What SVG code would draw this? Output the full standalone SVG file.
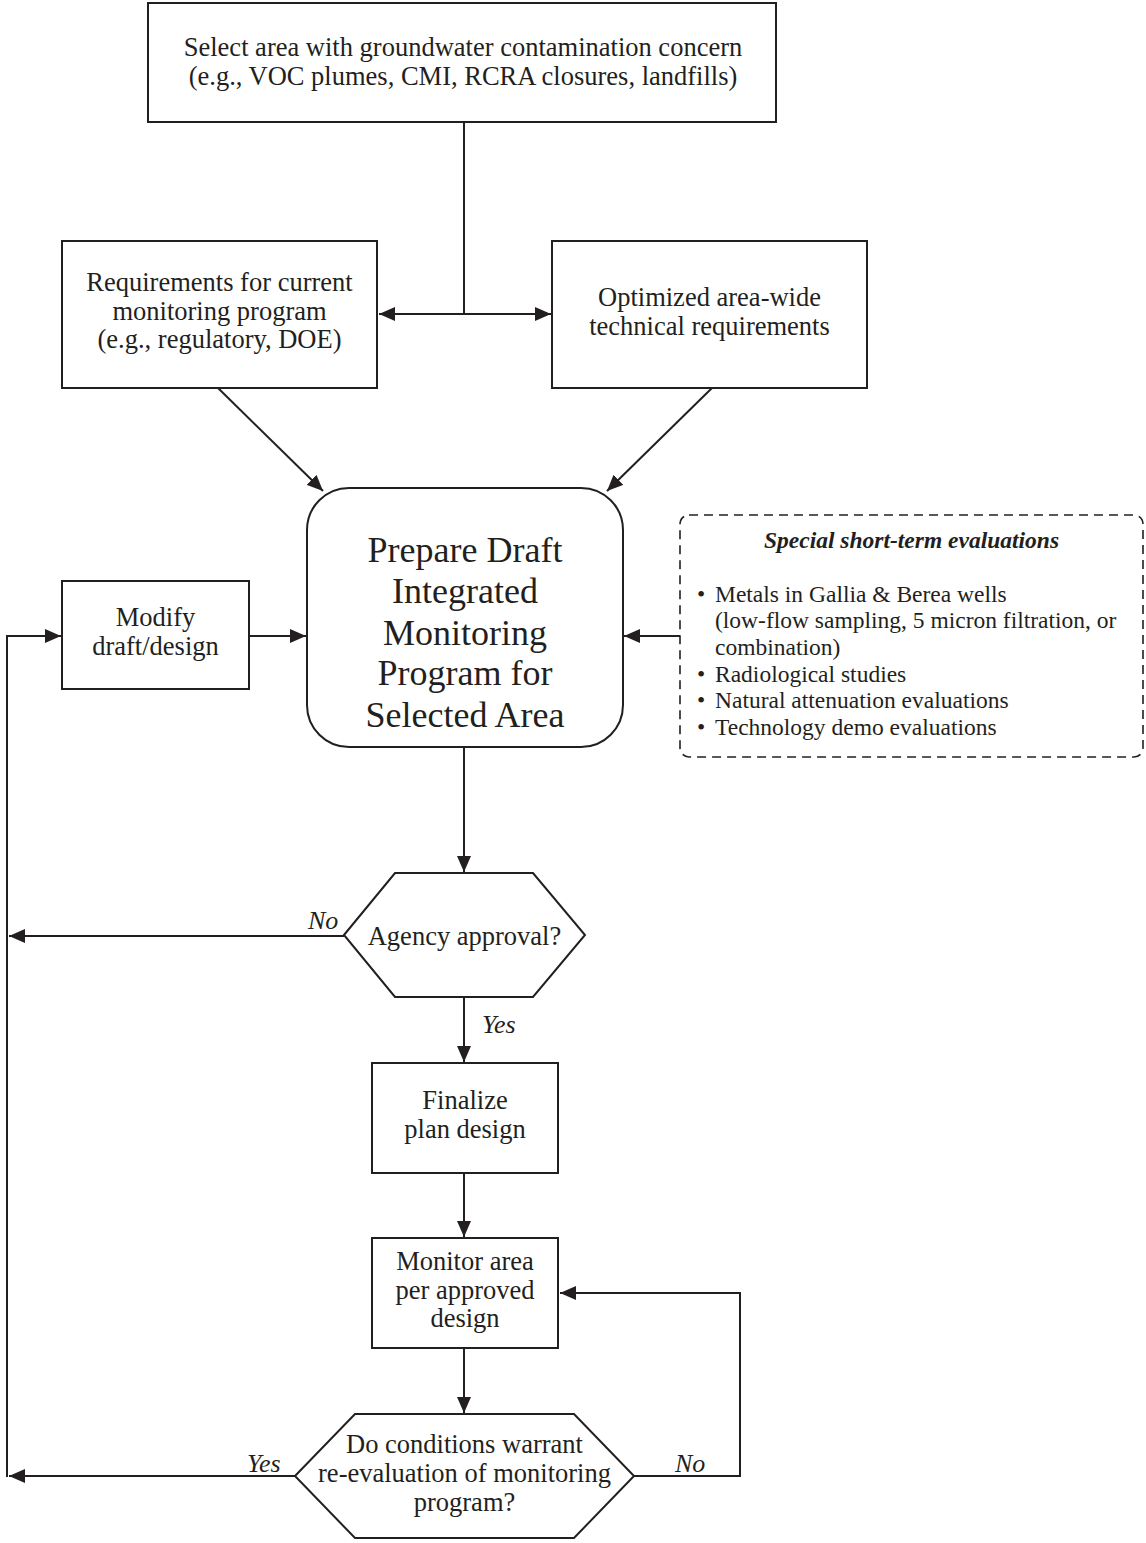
<svg xmlns="http://www.w3.org/2000/svg" width="1146" height="1543" viewBox="0 0 1146 1543">
<style>
  .box { fill: #ffffff; stroke: #231f20; stroke-width: 2; }
  .dash { fill: #ffffff; stroke: #231f20; stroke-width: 1.6; stroke-dasharray: 9 6; }
  .conn { fill: none; stroke: #231f20; stroke-width: 2; }
  .t { font-family: "Liberation Serif", "Times New Roman", serif; font-size: 26.5px; fill: #231f20; text-anchor: middle; }
  .big { font-family: "Liberation Serif", "Times New Roman", serif; font-size: 36px; fill: #231f20; text-anchor: middle; }
  .sp { font-family: "Liberation Serif", "Times New Roman", serif; font-size: 23.5px; fill: #231f20; }
  .spt { font-family: "Liberation Serif", "Times New Roman", serif; font-size: 23.5px; font-weight: bold; font-style: italic; fill: #231f20; text-anchor: middle; }
  .lbl { font-family: "Liberation Serif", "Times New Roman", serif; font-size: 26px; font-style: italic; fill: #231f20; }
</style>
<defs>
  <marker id="ah" markerUnits="userSpaceOnUse" markerWidth="17" markerHeight="14" refX="16" refY="7" orient="auto-start-reverse">
    <path d="M0,0 L16,7 L0,14 z" fill="#231f20"/>
  </marker>
</defs>
<rect width="1146" height="1543" fill="#ffffff"/>

<g id="connectors">
  <line class="conn" x1="464" y1="122" x2="464" y2="314"/>
  <line class="conn" x1="379" y1="314" x2="551" y2="314" marker-start="url(#ah)" marker-end="url(#ah)"/>
  <line class="conn" x1="218" y1="388" x2="323" y2="491" marker-end="url(#ah)"/>
  <line class="conn" x1="712" y1="388" x2="607" y2="491" marker-end="url(#ah)"/>
  <line class="conn" x1="249" y1="636" x2="306" y2="636" marker-end="url(#ah)"/>
  <line class="conn" x1="680" y1="636" x2="624" y2="636" marker-end="url(#ah)"/>
  <line class="conn" x1="464" y1="747" x2="464" y2="872" marker-end="url(#ah)"/>
  <line class="conn" x1="344" y1="936" x2="9" y2="936" marker-end="url(#ah)"/>
  <line class="conn" x1="464" y1="997" x2="464" y2="1062" marker-end="url(#ah)"/>
  <line class="conn" x1="464" y1="1173" x2="464" y2="1237" marker-end="url(#ah)"/>
  <line class="conn" x1="464" y1="1348" x2="464" y2="1413" marker-end="url(#ah)"/>
  <line class="conn" x1="295" y1="1476" x2="9" y2="1476" marker-end="url(#ah)"/>
  <polyline class="conn" points="634,1476 740,1476 740,1293 560,1293" marker-end="url(#ah)"/>
  <polyline class="conn" points="7,1477 7,636 61,636" marker-end="url(#ah)"/>
  <text class="lbl" x="308" y="929">No</text>
  <text class="lbl" x="482" y="1033">Yes</text>
  <text class="lbl" x="247" y="1472">Yes</text>
  <text class="lbl" x="675" y="1472">No</text>
</g>

<g id="node-select">
  <rect class="box" x="148" y="3" width="628" height="119"/>
  <text class="t" x="463" y="56">Select area with groundwater contamination concern</text>
  <text class="t" x="463" y="85">(e.g., VOC plumes, CMI, RCRA closures, landfills)</text>
</g>

<g id="node-requirements">
  <rect class="box" x="62" y="241" width="315" height="147"/>
  <text class="t" x="219.5" y="291">Requirements for current</text>
  <text class="t" x="219.5" y="319.5">monitoring program</text>
  <text class="t" x="219.5" y="348">(e.g., regulatory, DOE)</text>
</g>

<g id="node-optimized">
  <rect class="box" x="552" y="241" width="315" height="147"/>
  <text class="t" x="709.5" y="306">Optimized area-wide</text>
  <text class="t" x="709.5" y="335">technical requirements</text>
</g>

<g id="node-prepare">
  <rect class="box" x="307" y="488" width="316" height="259" rx="42" ry="42"/>
  <text class="big" x="465" y="562">Prepare Draft</text>
  <text class="big" x="465" y="603">Integrated</text>
  <text class="big" x="465" y="645">Monitoring</text>
  <text class="big" x="465" y="685">Program for</text>
  <text class="big" x="465" y="727">Selected Area</text>
</g>

<g id="node-modify">
  <rect class="box" x="62" y="581" width="187" height="108"/>
  <text class="t" x="155.5" y="626">Modify</text>
  <text class="t" x="155.5" y="655">draft/design</text>
</g>

<g id="node-special">
  <rect class="dash" x="680" y="515" width="463" height="242" rx="9" ry="9"/>
  <text class="spt" x="911.5" y="548">Special short-term evaluations</text>
  <text class="sp" x="697" y="602">•</text>
  <text class="sp" x="715" y="602">Metals in Gallia &amp; Berea wells</text>
  <text class="sp" x="715" y="628">(low-flow sampling, 5 micron filtration, or</text>
  <text class="sp" x="715" y="655">combination)</text>
  <text class="sp" x="697" y="682">•</text>
  <text class="sp" x="715" y="682">Radiological studies</text>
  <text class="sp" x="697" y="708">•</text>
  <text class="sp" x="715" y="708">Natural attenuation evaluations</text>
  <text class="sp" x="697" y="735">•</text>
  <text class="sp" x="715" y="735">Technology demo evaluations</text>
</g>

<g id="node-agency">
  <polygon class="box" points="344,935 395,873 533,873 585,935 533,997 395,997"/>
  <text class="t" x="464.5" y="945">Agency approval?</text>
</g>

<g id="node-finalize">
  <rect class="box" x="372" y="1063" width="186" height="110"/>
  <text class="t" x="465" y="1109">Finalize</text>
  <text class="t" x="465" y="1138">plan design</text>
</g>

<g id="node-monitor">
  <rect class="box" x="372" y="1238" width="186" height="110"/>
  <text class="t" x="465" y="1270">Monitor area</text>
  <text class="t" x="465" y="1299">per approved</text>
  <text class="t" x="465" y="1327">design</text>
</g>

<g id="node-conditions">
  <polygon class="box" points="295,1476 355,1414 574,1414 634,1476 574,1538 355,1538"/>
  <text class="t" x="464.5" y="1453">Do conditions warrant</text>
  <text class="t" x="464.5" y="1482">re-evaluation of monitoring</text>
  <text class="t" x="464.5" y="1511">program?</text>
</g>
</svg>
